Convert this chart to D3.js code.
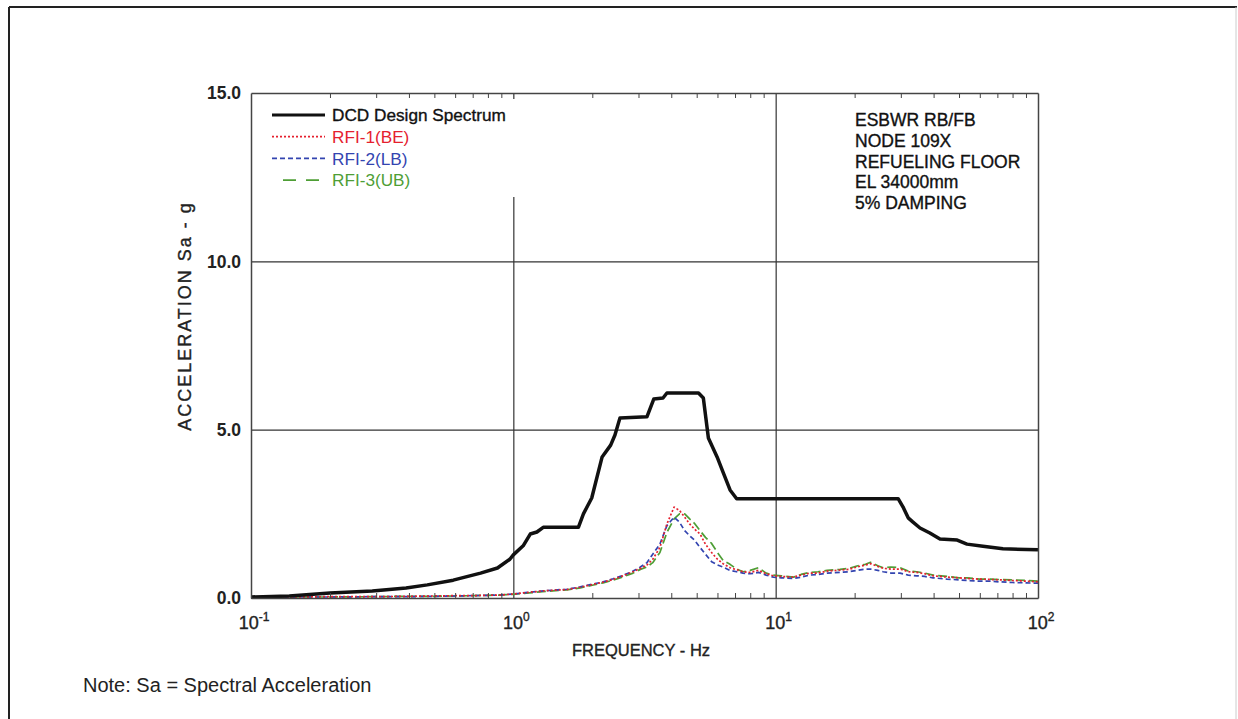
<!DOCTYPE html>
<html>
<head>
<meta charset="utf-8">
<script src="https://cdn.jsdelivr.net/npm/d3@7"></script>
<style>
  body { margin: 0; background: #fff; }
  text { font-family: "Liberation Sans", Arial, sans-serif; }
  .heavy { stroke: currentColor; stroke-width: 0.35px; }
  .axis path { stroke: #444; stroke-width: 1.5; }
  .axis line { stroke: #444; }
  .grid line { stroke: #333; stroke-width: 1.2; }
  .grid path { display: none; }
</style>
</head>
<body>
<div id="chart"></div>
<script>
// DCD design spectrum (frequency Hz, Sa g)
var dcdFreq = [0.1, 0.14, 0.2, 0.29, 0.39, 0.47, 0.59, 0.75, 0.87, 0.97, 1.0, 1.09, 1.16, 1.23, 1.30, 1.77, 1.85, 1.99, 2.18, 2.35, 2.44, 2.55, 3.23, 3.43, 3.72, 3.85, 5.08, 5.3, 5.54, 5.98, 6.3, 6.7, 7.1, 29.3, 30.6, 32, 33.3, 35.5, 38.7, 42.3, 49.2, 53.6, 61.7, 73.5, 100];
var dcdSa = [0.03, 0.06, 0.15, 0.21, 0.30, 0.39, 0.53, 0.74, 0.89, 1.15, 1.28, 1.55, 1.9, 1.96, 2.1, 2.1, 2.5, 2.97, 4.19, 4.54, 4.84, 5.35, 5.38, 5.91, 5.94, 6.09, 6.09, 5.94, 4.75, 4.19, 3.74, 3.21, 2.95, 2.95, 2.7, 2.38, 2.26, 2.08, 1.93, 1.75, 1.72, 1.60, 1.54, 1.46, 1.43];

// RFI spectra share one frequency list
var rfiFreq = [0.1, 0.15, 0.2, 0.3, 0.4, 0.5, 0.6, 0.7, 0.8, 0.9, 1.0, 1.15, 1.34, 1.6, 1.8, 2.0, 2.2, 2.4, 2.6, 2.86, 3.05, 3.23, 3.4, 3.62, 3.85, 4.1, 4.3, 4.5, 4.7, 4.9, 5.15, 5.4, 5.7, 6.0, 6.3, 6.7, 7.1, 7.5, 8.0, 8.6, 9.2, 9.8, 10.5, 11.7, 12.5, 13.5, 14.5, 15.7, 17.6, 19, 20.4, 22, 23, 24.5, 25.7, 27.5, 29.8, 32, 34.5, 37, 39.8, 45, 50, 53.6, 60, 66, 71, 80, 90, 100];
var rfi1Sa = [0.03, 0.03, 0.04, 0.04, 0.05, 0.06, 0.07, 0.07, 0.08, 0.09, 0.12, 0.17, 0.22, 0.25, 0.32, 0.40, 0.47, 0.55, 0.65, 0.78, 0.88, 0.98, 1.15, 1.5, 2.2, 2.7, 2.6, 2.4, 2.2, 2.05, 1.9, 1.6, 1.35, 1.15, 1.02, 0.9, 0.84, 0.78, 0.76, 0.82, 0.72, 0.66, 0.64, 0.62, 0.68, 0.74, 0.74, 0.80, 0.83, 0.85, 0.92, 0.98, 1.02, 0.94, 0.88, 0.86, 0.86, 0.78, 0.76, 0.72, 0.66, 0.62, 0.6, 0.58, 0.56, 0.55, 0.54, 0.52, 0.5, 0.48];
var rfi2Sa = [0.02, 0.03, 0.03, 0.04, 0.04, 0.05, 0.06, 0.07, 0.08, 0.09, 0.12, 0.17, 0.22, 0.26, 0.33, 0.41, 0.48, 0.57, 0.66, 0.8, 0.92, 1.05, 1.3, 1.6, 2.15, 2.4, 2.25, 2.0, 1.85, 1.72, 1.5, 1.3, 1.08, 0.98, 0.92, 0.82, 0.78, 0.74, 0.72, 0.76, 0.68, 0.62, 0.6, 0.58, 0.62, 0.68, 0.7, 0.74, 0.76, 0.78, 0.82, 0.86, 0.86, 0.82, 0.78, 0.74, 0.74, 0.68, 0.66, 0.64, 0.6, 0.56, 0.54, 0.52, 0.5, 0.5, 0.48, 0.46, 0.45, 0.44];
var rfi3Sa = [0.02, 0.03, 0.03, 0.04, 0.05, 0.05, 0.06, 0.07, 0.08, 0.09, 0.11, 0.15, 0.2, 0.24, 0.3, 0.38, 0.45, 0.53, 0.62, 0.74, 0.85, 0.92, 1.05, 1.35, 1.95, 2.35, 2.5, 2.5, 2.35, 2.22, 2.0, 1.8, 1.62, 1.35, 1.12, 1.0, 0.86, 0.78, 0.82, 0.9, 0.74, 0.68, 0.66, 0.62, 0.7, 0.76, 0.78, 0.82, 0.85, 0.88, 0.95, 1.0, 1.06, 0.96, 0.9, 0.92, 0.9, 0.8, 0.78, 0.74, 0.68, 0.64, 0.6, 0.6, 0.56, 0.56, 0.55, 0.54, 0.52, 0.5];

var seriesNames = ["DCD Design Spectrum", "RFI-1(BE)", "RFI-2(LB)", "RFI-3(UB)"];
var yTicks = [0, 5, 10, 15];
var xMajor = [0.1, 1, 10, 100];
var xExp = ["-1", "0", "1", "2"];
var notes = ["ESBWR RB/FB", "NODE 109X", "REFUELING FLOOR", "EL 34000mm", "5% DAMPING"];

var W = 1238, H = 719,
    margin = {top: 93, left: 251},
    width = 787,
    height = 505;

var svg = d3.select("#chart").append("svg")
    .attr("width", W)
    .attr("height", H);

// page frame
svg.append("line").attr("x1", 9).attr("y1", 7).attr("x2", 1237).attr("y2", 7)
    .attr("stroke", "#222").attr("stroke-width", 2);
svg.append("line").attr("x1", 9).attr("y1", 7).attr("x2", 9).attr("y2", 719)
    .attr("stroke", "#222").attr("stroke-width", 2);
svg.append("line").attr("x1", 1236).attr("y1", 7).attr("x2", 1236).attr("y2", 719)
    .attr("stroke", "#ccc").attr("stroke-width", 1);

var g = svg.append("g")
    .attr("transform", "translate(" + margin.left + "," + margin.top + ")");

var xScale = d3.scaleLog().domain([0.1, 100]).range([0, width]);
var yScale = d3.scaleLinear().domain([0, 15]).range([height, 0]);

// minor tick values on the log axis
var xMinor = [];
[0.1, 1, 10].forEach(function(d) {
    for (var k = 2; k <= 9; k++) { xMinor.push(d * k); }
});

// grid lines
g.append("g").attr("class", "grid")
    .attr("transform", "translate(0," + height + ")")
    .call(d3.axisBottom(xScale).tickValues([1, 10]).tickSize(-height).tickFormat(""));
g.append("g").attr("class", "grid")
    .call(d3.axisLeft(yScale).tickValues([5, 10]).tickSize(-width).tickFormat(""));

// legend background hides the grid behind it
g.append("rect")
    .attr("x", 1).attr("y", 6)
    .attr("width", 290).attr("height", 98)
    .attr("fill", "#fff");

var line = d3.line()
    .x(function(d) { return xScale(d[0]); })
    .y(function(d) { return yScale(d[1]); });

function pairs(xs, ys) {
    return xs.map(function(x, i) { return [x, ys[i]]; });
}

var styles = [
    {color: "#111", width: 3.5, dash: null},
    {color: "#e5202e", width: 1.7, dash: "2,2"},
    {color: "#3344b0", width: 1.7, dash: "5,3"},
    {color: "#4e9e35", width: 1.7, dash: "9,4"}
];

var data = [
    pairs(rfiFreq, rfi3Sa),
    pairs(rfiFreq, rfi2Sa),
    pairs(rfiFreq, rfi1Sa),
    pairs(dcdFreq, dcdSa)
];
var order = [3, 2, 1, 0];

data.forEach(function(d, i) {
    var s = styles[order[i]];
    g.append("path")
        .datum(d)
        .attr("d", line)
        .attr("fill", "none")
        .attr("stroke", s.color)
        .attr("stroke-width", s.width)
        .attr("stroke-dasharray", s.dash)
        .attr("stroke-linejoin", "round");
});

// frame axes with inward minor ticks
g.append("g").attr("class", "axis")
    .attr("transform", "translate(0," + height + ")")
    .call(d3.axisBottom(xScale).tickValues(xMinor).tickSizeInner(-5).tickSizeOuter(0).tickFormat(""));
g.append("g").attr("class", "axis")
    .call(d3.axisTop(xScale).tickValues(xMinor).tickSizeInner(-5).tickSizeOuter(0).tickFormat(""));
g.append("g").attr("class", "axis")
    .call(d3.axisLeft(yScale).tickValues([]).tickSizeOuter(0));
g.append("g").attr("class", "axis")
    .attr("transform", "translate(" + width + ",0)")
    .call(d3.axisRight(yScale).tickValues([]).tickSizeOuter(0));

// y tick labels
g.selectAll(".ylab")
    .data(yTicks)
    .enter().append("text")
    .attr("class", "ylab")
    .attr("x", -10)
    .attr("y", function(d) { return yScale(d); })
    .attr("dy", "0.36em")
    .attr("text-anchor", "end")
    .style("font-size", "17.5px")
    .style("font-weight", "bold")
    .attr("fill", "#222")
    .text(function(d) { return d3.format(".1f")(d); });

// x tick labels as powers of ten
var xl = g.selectAll(".xlab")
    .data(xMajor)
    .enter().append("text")
    .attr("class", "xlab heavy")
    .attr("x", function(d) { return xScale(d) + 3; })
    .attr("y", height + 31)
    .attr("text-anchor", "middle")
    .style("font-size", "18px")
    .style("color", "#222")
    .attr("fill", "#222");
xl.append("tspan").text("10");
xl.append("tspan")
    .attr("dy", -8)
    .style("font-size", "12px")
    .text(function(d, i) { return xExp[i]; });

// axis titles
g.append("text")
    .attr("class", "heavy")
    .attr("x", 390)
    .attr("y", height + 58)
    .attr("text-anchor", "middle")
    .style("font-size", "16.5px")
    .style("color", "#222")
    .attr("fill", "#222")
    .text("FREQUENCY - Hz");

g.append("text")
    .attr("class", "heavy")
    .attr("transform", "translate(-60," + (316 - margin.top) + ") rotate(-90)")
    .attr("text-anchor", "middle")
    .style("font-size", "18px")
    .style("letter-spacing", "2px")
    .style("color", "#222")
    .attr("fill", "#222")
    .text("ACCELERATION Sa - g");

// legend
var leg = g.selectAll(".leg")
    .data(seriesNames)
    .enter().append("g")
    .attr("class", "leg")
    .attr("transform", function(d, i) { return "translate(0," + (22 + i * 21.7) + ")"; });

leg.append("line")
    .attr("x1", function(d, i) { return i === 3 ? 32 : 21; })
    .attr("x2", 74)
    .attr("stroke", function(d, i) { return styles[i].color; })
    .attr("stroke-width", function(d, i) { return i === 0 ? 3 : 1.7; })
    .attr("stroke-dasharray", function(d, i) { return i === 3 ? "13,10" : styles[i].dash; });

leg.append("text")
    .attr("class", function(d, i) { return i === 0 ? "heavy" : null; })
    .attr("x", 81)
    .attr("dy", "0.36em")
    .style("font-size", "17.2px")
    .style("color", "#111")
    .attr("fill", function(d, i) { return i === 0 ? "#111" : styles[i].color; })
    .text(function(d) { return d; });

// annotation block
g.selectAll(".note")
    .data(notes)
    .enter().append("text")
    .attr("class", "note heavy")
    .attr("x", 604)
    .attr("y", function(d, i) { return 27 + i * 20.7; })
    .attr("dy", "0.36em")
    .style("font-size", "17.5px")
    .style("color", "#111")
    .attr("fill", "#111")
    .text(function(d) { return d; });

svg.append("text")
    .attr("x", 83)
    .attr("y", 685)
    .attr("dy", "0.36em")
    .style("font-size", "20px")
    .attr("fill", "#222")
    .text("Note: Sa = Spectral Acceleration");
</script>
</body>
</html>
